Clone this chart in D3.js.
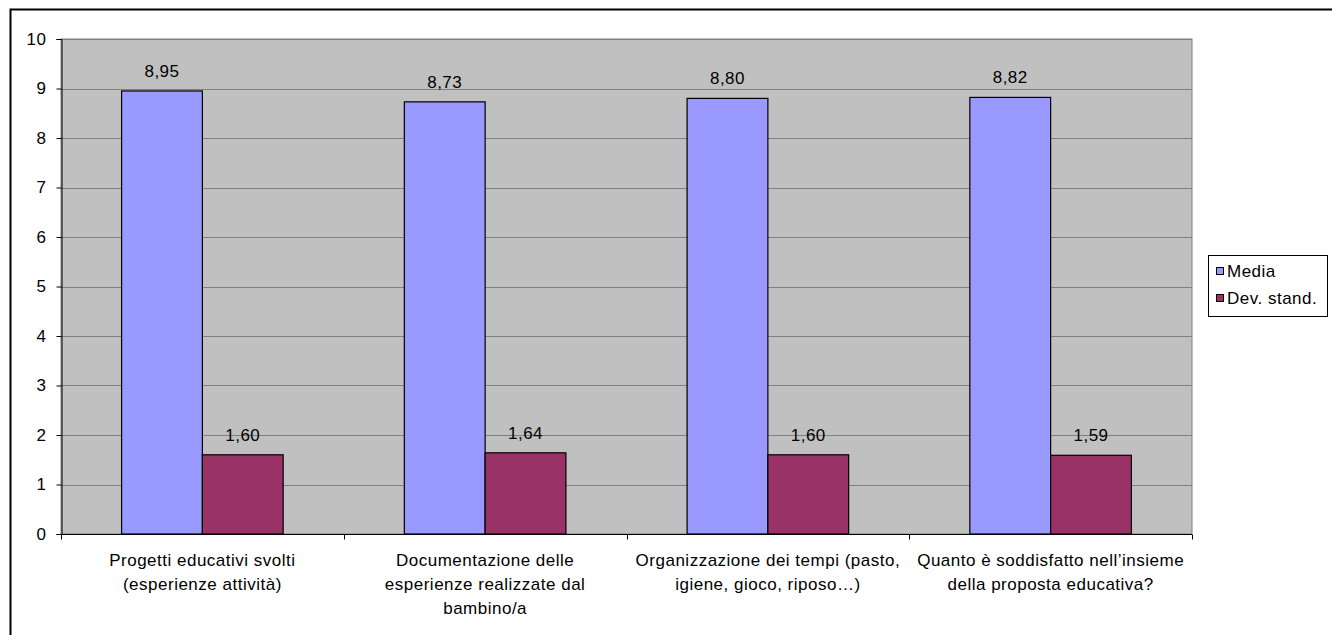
<!DOCTYPE html>
<html>
<head>
<meta charset="utf-8">
<script src="https://cdn.jsdelivr.net/npm/d3@7"></script>
<style>
	body { margin: 0; background: #fff; }
	svg text { font-family: "Liberation Sans", Arial, sans-serif; fill: #000; font-size: 17px; letter-spacing: 0.5px; }
</style>
</head>
<body>
<div id="chart"></div>
<script>
var categories = [
	"Progetti educativi svolti\n(esperienze attività)",
	"Documentazione delle\nesperienze realizzate dal\nbambino/a",
	"Organizzazione dei tempi (pasto,\nigiene, gioco, riposo…)",
	"Quanto è soddisfatto nell’insieme\ndella proposta educativa?"
];
var seriesNames = ["Media", "Dev. stand."];
var media = [8.95, 8.73, 8.80, 8.82];
var devStand = [1.60, 1.64, 1.60, 1.59];
var yTicks = [0, 1, 2, 3, 4, 5, 6, 7, 8, 9, 10];
var colors = ["#9999ff", "#993366"];

var width = 1332, height = 635;
var plot = {left: 61, top: 39, right: 1192, bottom: 534};

var svg = d3.select("#chart").append("svg")
	.attr("width", width)
	.attr("height", height);

//outer frame
svg.append("rect")
	.attr("x", 10.5).attr("y", 9.5)
	.attr("width", 1340).attr("height", 640)
	.attr("fill", "none")
	.attr("stroke", "#000")
	.attr("stroke-width", 2);

var x0 = d3.scaleBand()
	.domain(d3.range(categories.length))
	.range([plot.left, plot.right]);

// gap width 150%: two bars plus 1.5 bar widths per category
var x1 = d3.scaleBand()
	.domain(d3.range(seriesNames.length))
	.range([0, x0.bandwidth()])
	.paddingOuter(0.75)
	.paddingInner(0);

var y = d3.scaleLinear()
	.domain([0, 10])
	.range([plot.bottom, plot.top]);

//plot area
svg.append("rect")
	.attr("x", plot.left).attr("y", plot.top)
	.attr("width", plot.right - plot.left)
	.attr("height", plot.bottom - plot.top)
	.attr("fill", "#c0c0c0")
	.attr("stroke", "#808080")
	.attr("stroke-width", 1);

svg.append("g")
	.selectAll("line")
	.data(yTicks.slice(1))
	.enter().append("line")
	.attr("x1", plot.left).attr("x2", plot.right)
	.attr("y1", function(d) { return Math.round(y(d)) + 0.5; })
	.attr("y2", function(d) { return Math.round(y(d)) + 0.5; })
	.attr("stroke", "#808080");

//y axis
var yAxis = svg.append("g")
	.attr("transform", "translate(" + (plot.left + 0.5) + ",0)")
	.call(d3.axisLeft(y).tickValues(yTicks).tickSize(5).tickPadding(10).tickFormat(d3.format("d")));
yAxis.select(".domain").attr("stroke", "#000");
yAxis.selectAll(".tick line").attr("stroke", "#000");
yAxis.selectAll(".tick text")
	.attr("font-size", null)
	.attr("font-family", null)
	.attr("fill", null);
yAxis.attr("font-size", null).attr("font-family", null);

//bars
var rows = categories.map(function(c, i) {
	return [media[i], devStand[i]];
});

var groups = svg.append("g")
	.selectAll("g")
	.data(rows)
	.enter().append("g")
	.attr("transform", function(d, i) { return "translate(" + x0(i) + ",0)"; });

groups.selectAll("rect")
	.data(function(d) { return d; })
	.enter().append("rect")
	.attr("x", function(d, j) { return x1(j); })
	.attr("y", function(d) { return y(d); })
	.attr("width", x1.bandwidth())
	.attr("height", function(d) { return y(0) - y(d); })
	.attr("fill", function(d, j) { return colors[j]; })
	.attr("stroke", "#000")
	.attr("stroke-width", 1.2);

groups.selectAll("text")
	.data(function(d) { return d; })
	.enter().append("text")
	.attr("x", function(d, j) { return x1(j) + x1.bandwidth() / 2; })
	.attr("y", function(d) { return y(d) - 14; })
	.attr("text-anchor", "middle")
	.text(function(d) { return d.toFixed(2).replace(".", ","); });

//x axis
var xAxis = svg.append("g")
	.attr("transform", "translate(0," + (plot.bottom + 0.5) + ")");
xAxis.append("line")
	.attr("x1", plot.left).attr("x2", plot.right)
	.attr("stroke", "#000");
xAxis.selectAll(".cat-tick")
	.data(d3.range(categories.length + 1))
	.enter().append("line")
	.attr("class", "cat-tick")
	.attr("x1", function(i) { return Math.round(plot.left + i * x0.step()) + 0.5; })
	.attr("x2", function(i) { return Math.round(plot.left + i * x0.step()) + 0.5; })
	.attr("y1", 0).attr("y2", 5)
	.attr("stroke", "#000");

xAxis.selectAll(".cat-label")
	.data(categories)
	.enter().append("text")
	.attr("class", "cat-label")
	.attr("text-anchor", "middle")
	.each(function(d, i) {
		var t = d3.select(this);
		d.split("\n").forEach(function(line, k) {
			t.append("tspan")
				.attr("x", x0(i) + x0.bandwidth() / 2)
				.attr("y", 31 + k * 24)
				.text(line);
		});
	});

//legend
var legend = svg.append("g")
	.attr("transform", "translate(1208,255)");
legend.append("rect")
	.attr("x", 0.5).attr("y", 0.5)
	.attr("width", 119).attr("height", 61)
	.attr("fill", "#fff")
	.attr("stroke", "#000");
var items = legend.selectAll(".item")
	.data(seriesNames)
	.enter().append("g")
	.attr("class", "item")
	.attr("transform", function(d, i) { return "translate(8," + (12 + i * 27) + ")"; });
items.append("rect")
	.attr("width", 7).attr("height", 7)
	.attr("x", 0.5).attr("y", 0.5)
	.attr("fill", function(d, i) { return colors[i]; })
	.attr("stroke", "#000");
items.append("text")
	.attr("x", 11).attr("y", 9.5)
	.text(function(d) { return d; });
</script>
</body>
</html>
